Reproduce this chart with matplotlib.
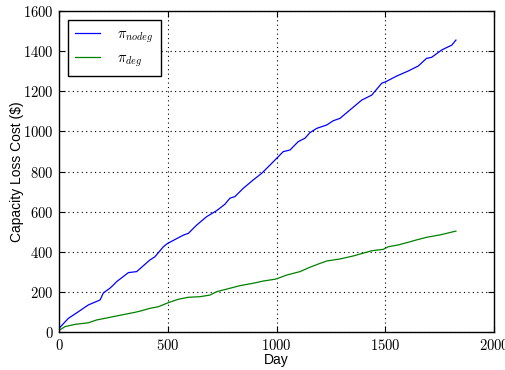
import matplotlib
matplotlib.use("Agg")
import matplotlib.pyplot as plt
from matplotlib.ticker import FuncFormatter

plt.rcParams['mathtext.fontset'] = 'cm'
plt.rcParams['font.family'] = ['Liberation Sans', 'DejaVu Sans']

nodeg_day = [0, 43, 89, 135, 181, 189, 204, 234, 250, 265, 319, 357, 418, 441, 480,
             500, 572, 595, 633, 679, 725, 763, 786, 809, 847, 893, 932, 970, 1001,
             1031, 1062, 1100, 1131, 1154, 1185, 1231, 1261, 1292, 1338, 1392, 1438,
             1484, 1503, 1553, 1606, 1652, 1690, 1713, 1760, 1806, 1825]
nodeg_val = [18, 68, 101, 135, 156, 160, 195, 218, 234, 251, 296, 301, 359, 375, 425,
             442, 483, 492, 533, 575, 605, 637, 667, 675, 716, 758, 791, 832, 866,
             899, 907, 949, 966, 994, 1015, 1032, 1053, 1065, 1107, 1156, 1181,
             1240, 1248, 1276, 1301, 1326, 1364, 1369, 1406, 1430, 1455]

deg_day = [0, 28, 74, 135, 173, 211, 288, 349, 380, 418, 457, 502, 548, 594, 648,
           694, 725, 786, 832, 893, 939, 993, 1008, 1047, 1108, 1154, 1200, 1231,
           1292, 1353, 1438, 1491, 1514, 1560, 1598, 1644, 1690, 1752, 1783, 1825]
deg_val = [8, 27, 38, 46, 60, 68, 85, 98, 106, 118, 126, 146, 163, 173, 176,
           184, 201, 218, 231, 243, 254, 263, 268, 284, 301, 323, 342, 354,
           364, 379, 405, 412, 425, 434, 445, 459, 472, 484, 492, 503]

fig = plt.figure(figsize=(5.05, 3.70), dpi=100)
ax = fig.add_axes([59/505, 1-332/370, 435/505, 321/370])

ax.plot(nodeg_day, nodeg_val, color='blue', lw=0.9, label=r'$\pi_{nodeg}$')
ax.plot(deg_day, deg_val, color='green', lw=0.9, label=r'$\pi_{deg}$')

ax.set_xlim(0, 2000)
ax.set_ylim(0, 1600)
ax.set_xticks([0, 500, 1000, 1500, 2000])
ax.set_yticks(range(0, 1601, 200))
ax.xaxis.set_major_formatter(FuncFormatter(lambda v, p: r'$%d$' % v))
ax.yaxis.set_major_formatter(FuncFormatter(lambda v, p: r'$%d$' % v))
ax.tick_params(direction='in', top=True, right=True, length=4, width=0.8,
               labelsize=10.5, colors='black', pad=4)
ax.grid(True, color='black', linestyle=(0, (1, 3)), linewidth=0.8)
for s in ax.spines.values():
    s.set_linewidth(1.0)

ax.set_xlabel('Day', fontsize=10, labelpad=0)
ax.set_ylabel('Capacity Loss Cost ($)', fontsize=10, labelpad=-1)

leg = ax.legend(loc='upper left', fontsize=10.5, fancybox=False, framealpha=1,
                edgecolor='black', borderpad=0.5, handlelength=1.7,
                handletextpad=1.2, labelspacing=0.45, borderaxespad=0.6)
leg.get_frame().set_linewidth(1.0)

fig.savefig('out.png', dpi=100)
